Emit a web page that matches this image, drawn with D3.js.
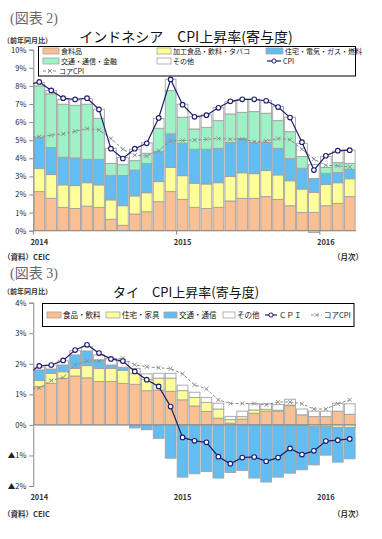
<!DOCTYPE html>
<html><head><meta charset="utf-8">
<script src="https://cdn.jsdelivr.net/npm/d3@7"></script>
<style>body{margin:0;background:#fff}</style>
</head><body><svg id="c" width="382" height="539" xmlns="http://www.w3.org/2000/svg"></svg>
<script>
// ---------- shared categories ----------
const months = ["2014/01","2014/02","2014/03","2014/04","2014/05","2014/06","2014/07","2014/08","2014/09","2014/10","2014/11","2014/12",
                "2015/01","2015/02","2015/03","2015/04","2015/05","2015/06","2015/07","2015/08","2015/09","2015/10","2015/11","2015/12",
                "2016/01","2016/02","2016/03"];
const yearStarts = ["2014/01","2015/01","2016/01"];
const yearLabels = ["2014","2015","2016"];

// ---------- Indonesia (図表2) ----------
const idKeys   = ["食料品","加工食品・飲料・タバコ","住宅・電気・ガス・燃料","交通・通信・金融","その他"];
const idFood   = [2.16,1.79,1.29,1.23,1.36,1.29,0.63,0.30,0.92,1.05,1.60,2.16,1.73,1.29,1.23,1.29,1.64,1.79,1.79,1.88,1.73,1.38,1.01,1.01,1.38,1.51,1.88];
const idProc   = [1.27,1.31,1.24,1.26,1.29,1.24,1.07,1.08,1.00,1.05,1.11,1.34,1.31,1.33,1.35,1.36,1.35,1.41,1.36,1.44,1.35,1.38,1.29,1.11,1.17,1.14,0.99];
const idHouse  = [1.73,1.50,1.53,1.53,1.29,1.41,1.34,1.67,1.43,1.62,1.68,1.85,1.79,1.88,1.92,1.90,1.88,1.90,1.72,1.55,1.47,1.22,1.15,0.77,0.62,0.56,0.52];
const idTrans  = [2.84,2.96,2.93,2.91,3.05,2.27,0.68,0.60,0.52,0.56,1.27,2.39,1.44,1.12,1.21,1.53,1.58,1.44,1.71,1.62,1.53,1.49,0.65,-0.10,0.33,0.55,0.33];
const idOther  = [0.18,0.18,0.27,0.30,0.31,0.50,0.83,0.40,0.63,0.57,0.54,0.63,0.72,0.68,0.69,0.72,0.68,0.72,0.68,0.70,0.78,0.80,0.73,0.76,0.60,0.64,0.73];
const idCPI    = [8.22,7.75,7.32,7.25,7.32,6.70,4.53,3.99,4.53,4.83,6.23,8.36,6.96,6.29,6.38,6.79,7.15,7.26,7.26,7.18,6.83,6.25,4.89,3.35,4.14,4.42,4.45];
const idCore   = [5.20,5.27,5.35,5.49,5.64,5.57,5.09,4.50,4.17,4.13,4.42,4.98,4.98,5.01,5.05,5.09,5.05,5.05,4.92,4.96,5.09,5.03,4.50,3.96,3.61,3.59,3.52];
const idCPIPrev = 8.05, idCorePrev = 5.15;   // 2013/12 (only a stub is visible)
const idYTicks = [0,1,2,3,4,5,6,7,8,9,10];

// ---------- Thailand (図表3) ----------
const thKeys   = ["食品・飲料","住宅・家具","交通・通信","その他"];
const thFood   = [1.25,1.36,1.53,1.60,1.54,1.42,1.42,1.36,1.33,1.12,1.14,1.10,0.82,0.62,0.44,0.22,0.06,0.19,0.38,0.45,0.45,0.63,0.33,0.27,0.27,0.45,0.35];
const thHouse  = [0.20,0.33,0.21,0.25,0.40,0.43,0.43,0.42,0.36,0.37,0.39,0.43,0.30,0.28,0.29,0.30,0.11,0.08,0.11,0.06,0.03,0.02,-0.02,-0.05,-0.05,-0.08,-0.08];
const thTrans  = [0.35,0.14,0.22,0.44,0.48,0.28,0.11,0.11,-0.10,-0.16,-0.44,-1.09,-1.71,-1.60,-1.53,-1.74,-1.56,-1.49,-1.74,-1.87,-1.71,-1.58,-1.45,-1.26,-0.94,-1.14,-1.03];
const thOther  = [0.09,0.13,0.14,0.14,0.14,0.16,0.22,0.18,0.16,0.18,0.16,0.16,0.18,0.17,0.17,0.19,0.11,0.18,0.20,0.18,0.19,0.19,0.19,0.18,0.18,0.26,0.34];
const thCPI    = [1.93,1.96,2.11,2.45,2.62,2.35,2.16,2.09,1.75,1.48,1.26,0.60,-0.41,-0.52,-0.57,-1.04,-1.27,-1.07,-1.05,-1.19,-1.07,-0.77,-0.97,-0.85,-0.53,-0.50,-0.46];
const thCore   = [1.21,1.45,1.55,1.97,2.09,2.09,2.16,2.18,1.97,1.90,1.87,1.84,1.67,1.31,1.18,0.82,0.70,0.70,0.70,0.66,0.75,0.75,0.69,0.52,0.52,0.69,0.82];
const thCPIPrev = 1.67, thCorePrev = 1.15;
const thYTicks = [-2,-1,0,1,2,3,4];

// ---------- styles ----------
const JP = "'Noto Sans CJK JP','Noto Sans',sans-serif";
const SERIF = "'Liberation Serif','Noto Sans CJK JP',serif";
const C_FOOD = "#FAC093", C_PROC = "#FFFF99", C_HOUSE = "#62BEF2", C_TRANS = "#9EF2C6", C_OTHER = "#FFFFFF";
const C_CPI = "#1E1E6E", C_CORE = "#8C8C8C", C_EDGE = "#A2A2A2", C_AXIS = "#8A8A8A";

const svg = d3.select("#c");
svg.append("rect").attr("width",382).attr("height",539).attr("fill","#fff");

function xMarker(sel, cx, cy, s){
  sel.append("path").attr("d",`M${cx-s},${cy-s}L${cx+s},${cy+s}M${cx-s},${cy+s}L${cx+s},${cy-s}`)
     .attr("stroke",C_CORE).attr("stroke-width",0.9).attr("fill","none");
}

function drawChart(o){
  const g = svg.append("g");
  const x = d3.scaleBand().domain(months).range([33.3,355.7]).paddingInner(0.1).paddingOuter(0.05);
  const y = d3.scaleLinear().domain(o.yDomain).range(o.yRange);
  const rows = months.map((m,i)=>{ const r={month:m}; o.keys.forEach((k,j)=>r[k]=o.series[j][i]); return r; });
  const stack = d3.stack().keys(o.keys).offset(d3.stackOffsetDiverging)(rows);

  // bars
  stack.forEach((layer,j)=>{
    g.append("g").selectAll("rect").data(layer).join("rect")
      .attr("x",d=>x(d.data.month)).attr("width",x.bandwidth())
      .attr("y",d=>y(Math.max(d[0],d[1]))).attr("height",d=>Math.abs(y(d[0])-y(d[1])))
      .attr("fill",o.colors[j]).attr("stroke",C_EDGE).attr("stroke-width",0.9);
  });

  // zero line + year ticks
  g.append("line").attr("x1",33.3).attr("x2",356).attr("y1",y(0)).attr("y2",y(0)).attr("stroke",C_AXIS).attr("stroke-width",1);
  if(o.yearTicks){
    yearStarts.forEach(m=>{
      const xx = x(m) - x.step()*x.paddingInner()/2;
      g.append("line").attr("x1",xx).attr("x2",xx).attr("y1",y(0)).attr("y2",y(0)+4).attr("stroke",C_AXIS);
    });
  }
  // y axis
  const ax = g.append("g").attr("transform","translate(33.3,0)")
    .call(d3.axisLeft(y).tickValues(o.yTicks).tickSize(4).tickPadding(3).tickFormat(o.fmt));
  ax.select(".domain").attr("stroke",C_AXIS);
  ax.selectAll(".tick line").attr("stroke",C_AXIS);
  ax.selectAll("text").attr("font-family",JP).attr("font-size",7.5).attr("fill","#222");

  // year labels
  g.selectAll("text.yr").data(yearStarts).join("text").attr("class","yr")
    .attr("x",m=>x(m)+x.bandwidth()/2).attr("y",o.yearLabelY).attr("text-anchor","middle")
    .attr("font-family",JP).attr("font-size",7.5).attr("font-weight","bold").attr("fill","#333")
    .text((m,i)=>yearLabels[i]);

  // lines (clipped to plot)
  const cid = "clip"+o.id;
  svg.append("clipPath").attr("id",cid).append("rect").attr("x",33.3).attr("y",0).attr("width",323).attr("height",539);
  const cx = i => (i<0 ? x(months[0]) - x.step() : x(months[i])) + x.bandwidth()/2;
  const lg = g.append("g").attr("clip-path",`url(#${cid})`);
  const line = d3.line().x(d=>cx(d.i)).y(d=>y(d.v));
  const coreData = [{i:-1,v:o.corePrev}].concat(o.core.map((v,i)=>({i,v})));
  const cpiData  = [{i:-1,v:o.cpiPrev}].concat(o.cpi.map((v,i)=>({i,v})));
  lg.append("path").attr("d",line(coreData)).attr("fill","none").attr("stroke",C_CORE).attr("stroke-width",1).attr("stroke-dasharray","3,2");
  o.core.forEach((v,i)=>xMarker(lg,cx(i),y(v),2.1));
  lg.append("path").attr("d",line(cpiData)).attr("fill","none").attr("stroke",C_CPI).attr("stroke-width",1.2);
  lg.selectAll("circle").data(o.cpi).join("circle").attr("cx",(v,i)=>cx(i)).attr("cy",v=>y(v)).attr("r",2.3)
    .attr("fill","#fff").attr("stroke",C_CPI).attr("stroke-width",1.1);

  // texts
  g.append("text").attr("x",10).attr("y",o.figY).attr("font-family",SERIF).attr("font-size",14).attr("fill","#666").text(o.fig);
  g.append("text").attr("x",3).attr("y",o.unitY).attr("font-family",JP).attr("font-size",7).attr("font-weight","bold").attr("fill","#333").text("（前年同月比）");
  g.append("text").attr("x",o.titleX).attr("y",o.titleY).attr("text-anchor","middle").attr("font-family",JP).attr("font-size",o.titleSize).attr("fill","#111").text(o.title);
  g.append("text").attr("x",3).attr("y",o.srcY).attr("font-family",JP).attr("font-size",7.5).attr("font-weight","bold").attr("fill","#333").text("（資料）CEIC");
  g.append("text").attr("x",363).attr("y",o.srcY).attr("text-anchor","end").attr("font-family",JP).attr("font-size",7.5).attr("font-weight","bold").attr("fill","#333").text("（月次）");

  // legend
  const L = o.legend;
  const lgd = g.append("g");
  lgd.append("rect").attr("x",L.box[0]).attr("y",L.box[1]).attr("width",L.box[2]).attr("height",L.box[3])
     .attr("fill","#fff").attr("stroke","#000").attr("stroke-width",1);
  L.items.forEach(it=>{
    if(it.type==="rect"){
      lgd.append("rect").attr("x",it.x).attr("y",it.y-3).attr("width",it.w).attr("height",6).attr("fill",it.color).attr("stroke",C_EDGE).attr("stroke-width",0.8);
    } else if(it.type==="cpi"){
      lgd.append("line").attr("x1",it.x).attr("x2",it.x+it.w).attr("y1",it.y).attr("y2",it.y).attr("stroke",C_CPI).attr("stroke-width",1.2);
      lgd.append("circle").attr("cx",it.x+it.w/2).attr("cy",it.y).attr("r",2.1).attr("fill","#fff").attr("stroke",C_CPI).attr("stroke-width",1);
    } else {
      lgd.append("line").attr("x1",it.x).attr("x2",it.x+it.w).attr("y1",it.y).attr("y2",it.y).attr("stroke",C_CORE).attr("stroke-width",1).attr("stroke-dasharray","3,2");
      xMarker(lgd,it.x+it.w/2,it.y,2);
    }
    lgd.append("text").attr("x",it.x+it.w+2).attr("y",it.y+2.6).attr("font-family",JP).attr("font-size",L.fs).attr("fill","#111").text(it.label);
  });
}

drawChart({
  id:"id", keys:idKeys, series:[idFood,idProc,idHouse,idTrans,idOther],
  colors:[C_FOOD,C_PROC,C_HOUSE,C_TRANS,C_OTHER],
  cpi:idCPI, core:idCore, cpiPrev:idCPIPrev, corePrev:idCorePrev,
  yDomain:[0,10], yRange:[230.7,49.7], yTicks:idYTicks, fmt:d=>d+"%",
  yearTicks:true, yearLabelY:245,
  fig:"(図表 2)", figY:23, unitY:42.5, title:"インドネシア　CPI上昇率(寄与度)", titleSize:14, titleX:186, titleY:42, srcY:260,
  legend:{fs:7, box:[38.5,46.5,317,29.5], items:[
    {type:"rect",x:43,y:51,w:16,color:C_FOOD,label:idKeys[0]},
    {type:"rect",x:157,y:51,w:14,color:C_PROC,label:idKeys[1]},
    {type:"rect",x:266,y:51,w:17,color:C_HOUSE,label:idKeys[2]},
    {type:"rect",x:43,y:61,w:16,color:C_TRANS,label:idKeys[3]},
    {type:"rect",x:157,y:61,w:14,color:C_OTHER,label:idKeys[4]},
    {type:"cpi",x:267,y:61,w:14,label:"CPI"},
    {type:"core",x:43,y:71,w:14,label:"コアCPI"}
  ]}
});

drawChart({
  id:"th", keys:thKeys, series:[thFood,thHouse,thTrans,thOther],
  colors:[C_FOOD,C_PROC,C_HOUSE,C_OTHER],
  cpi:thCPI, core:thCore, cpiPrev:thCPIPrev, corePrev:thCorePrev,
  yDomain:[-2,4], yRange:[486,302.7], yTicks:thYTicks, fmt:d=>d<0?("▲"+(-d)+"%"):(d+"%"),
  yearTicks:false, yearLabelY:500,
  fig:"(図表 3)", figY:278, unitY:294, title:"タイ　CPI上昇率(寄与度)", titleSize:13, titleX:186, titleY:297, srcY:517,
  legend:{fs:7.5, box:[42.5,303.5,311.5,23], items:[
    {type:"rect",x:47,y:315,w:14,color:C_FOOD,label:thKeys[0]},
    {type:"rect",x:106,y:315,w:14,color:C_PROC,label:thKeys[1]},
    {type:"rect",x:164,y:315,w:13,color:C_HOUSE,label:thKeys[2]},
    {type:"rect",x:223,y:315,w:12,color:C_OTHER,label:thKeys[3]},
    {type:"cpi",x:265,y:315,w:12,label:"ＣＰＩ"},
    {type:"core",x:311,y:315,w:11,label:"コアCPI"}
  ]}
});
</script></body></html>
